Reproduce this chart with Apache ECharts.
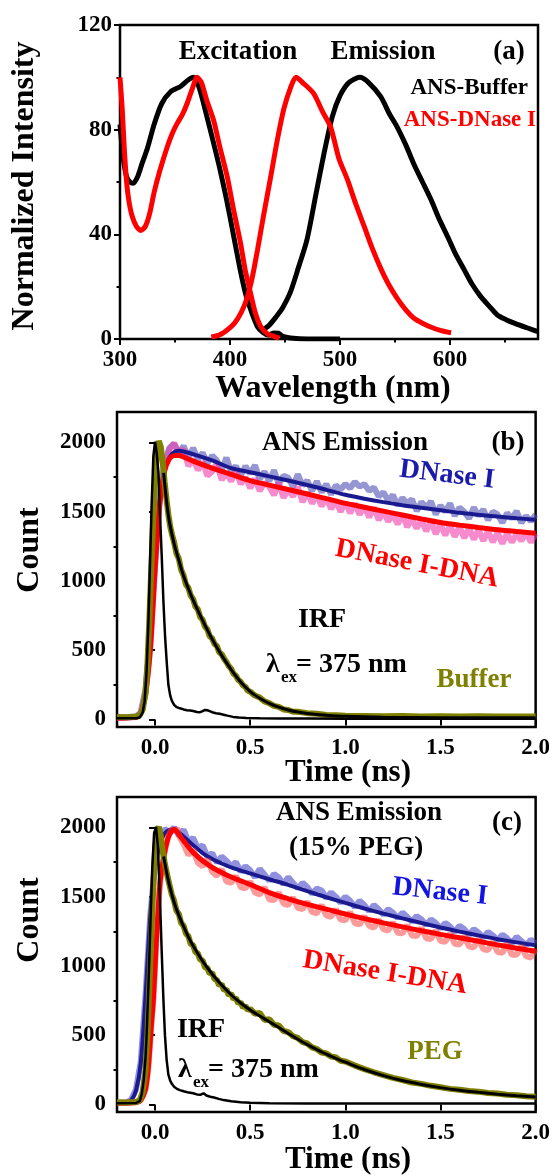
<!DOCTYPE html>
<html>
<head>
<meta charset="utf-8">
<title>ANS spectra and decays</title>
<script src="https://cdn.jsdelivr.net/npm/echarts@6/dist/echarts.min.js"></script>
<style>
  html, body { margin: 0; padding: 0; background: #fff; }
  #chart { width: 553px; height: 1176px; }
</style>
</head>
<body>
<div id="chart"></div>
<script>
// ---- (a) steady state spectra: [wavelength (nm), normalized intensity]
const exBuffer = [[300,82],[303,69],[306,62],[309,60],[312,59.5],[316,62],[320,67],[325,73],[331,82],[338,90],[346,94.5],[355,96.5],[362,99],[367,100],[372,96],[379,85],[385,75],[391,64.6],[397,53],[403.5,39],[409,27],[414,17.5],[419,11],[425,4.7],[430,2.5],[435,1.5],[440,2.3],[444,2.2],[448,1],[455,0.4],[470,0],[500,0]];
const emBuffer = [[428,3],[435,5],[442,8.5],[448,12],[455,18],[462,27],[470,38],[478,55],[486,72],[493,85],[500,93],[508,98],[518,100],[526,98],[537,92.6],[545,86],[552,81],[560,74],[567,67],[575,60],[583,53],[590,46],[598,39],[605,32.5],[613,26.4],[620,21],[628,16.2],[636,12.4],[643,9.2],[651,7.4],[659,6],[670,4.3],[680,2.8]];
const exDNase = [[300,100],[302,88],[304,72],[306,60],[308,53],[311,47],[315,43],[319,41.5],[323,43],[327,48],[331,56],[336,64],[343,73.5],[348,79],[352,82.4],[357,86],[361,90],[366,96],[370,100],[374,98],[379,91],[385,83.7],[391,73],[397.5,62],[403,50],[409.6,36.6],[414,26],[418.7,17.5],[423,10],[428,4.7],[434,2],[440,1],[445,0.3]];
const emDNase = [[383,0.8],[390,1.5],[396,3],[404,6],[410,10],[415,15],[420,23],[425,34],[430,46],[437,62],[443,76],[449,88],[455,96],[460,100],[466,98],[476,93.9],[484,87],[491.5,81],[499,69],[506.7,61],[514,52],[522,43],[529,35],[537,27],[544,21],[552,15.5],[560,11],[567,8],[575,6],[583,4.5],[592,3.2],[601,2.4]];

// ---- (b) decays in buffer: [time (ns), count]
const irfB = [[-0.2,8],[-0.1,8],[-0.08,14],[-0.065,50],[-0.055,130],[-0.045,330],[-0.035,700],[-0.026,1150],[-0.018,1550],[-0.009,1900],[0,2005],[0.008,1930],[0.018,1780],[0.026,1480],[0.035,1180],[0.044,850],[0.053,590],[0.062,400],[0.07,250],[0.08,170],[0.088,135],[0.1,105],[0.114,88],[0.13,80],[0.15,72],[0.167,66],[0.185,64],[0.2,60],[0.22,54],[0.237,52],[0.25,60],[0.262,68],[0.275,66],[0.29,58],[0.305,50],[0.32,44],[0.34,40],[0.36,34],[0.38,27],[0.41,18],[0.44,13],[0.48,10],[0.55,8],[0.65,6],[0.8,6],[1.0,5],[1.3,5],[1.6,5],[2.0,5]];
const bufferB = [[-0.2,18],[-0.15,16],[-0.1,20],[-0.08,30],[-0.065,70],[-0.05,190],[-0.04,400],[-0.03,720],[-0.02,1080],[-0.01,1430],[0,1740],[0.01,1930],[0.02,2010],[0.03,1970],[0.04,1860],[0.05,1720],[0.06,1590],[0.07,1480],[0.08,1390],[0.09,1330],[0.1,1280],[0.112,1200],[0.125,1160],[0.137,1080],[0.15,1040],[0.162,975],[0.175,950],[0.187,895],[0.2,870],[0.212,815],[0.225,795],[0.237,740],[0.25,720],[0.262,670],[0.275,650],[0.287,600],[0.3,585],[0.312,545],[0.325,530],[0.337,485],[0.35,470],[0.362,440],[0.375,415],[0.387,385],[0.4,365],[0.412,330],[0.425,315],[0.437,285],[0.45,272],[0.462,245],[0.475,235],[0.487,208],[0.5,200],[0.525,172],[0.55,158],[0.575,130],[0.6,118],[0.625,98],[0.65,90],[0.675,72],[0.7,68],[0.725,55],[0.75,55],[0.8,45],[0.85,40],[0.9,32],[0.95,30],[1.0,26],[1.1,24],[1.2,22],[1.3,24],[1.4,21],[1.5,22],[1.6,20],[1.7,22],[1.8,20],[1.9,21],[2.0,20]];
const bufferFitB = [[0.045,1780],[0.06,1580],[0.075,1430],[0.1,1270],[0.125,1150],[0.15,1035],[0.175,945],[0.2,862],[0.25,715],[0.3,580],[0.35,462],[0.4,360],[0.45,270],[0.5,200],[0.55,152],[0.6,115],[0.65,88],[0.7,68],[0.75,53],[0.8,43],[0.9,30],[1.0,22],[1.2,15],[1.5,12],[2.0,12]];
const dnaseB = [[-0.2,10],[-0.15,15],[-0.1,20],[-0.075,50],[-0.05,220],[-0.025,600],[0,1150],[0.025,1620],[0.05,1850],[0.075,1960],[0.1,1990],[0.125,1920],[0.15,1975],[0.175,1890],[0.2,1960],[0.225,1880],[0.25,1925],[0.275,1850],[0.3,1905],[0.325,1870],[0.35,1800],[0.375,1890],[0.4,1790],[0.425,1830],[0.45,1760],[0.475,1830],[0.5,1775],[0.525,1835],[0.55,1735],[0.575,1790],[0.6,1720],[0.625,1800],[0.65,1700],[0.675,1760],[0.7,1745],[0.725,1680],[0.75,1770],[0.775,1690],[0.8,1725],[0.825,1650],[0.85,1720],[0.875,1640],[0.9,1700],[0.925,1625],[0.95,1690],[0.975,1660],[1.0,1700],[1.025,1670],[1.05,1715],[1.075,1680],[1.1,1700],[1.125,1650],[1.15,1675],[1.175,1610],[1.2,1640],[1.225,1580],[1.25,1620],[1.275,1545],[1.3,1600],[1.325,1560],[1.35,1590],[1.375,1505],[1.4,1570],[1.425,1530],[1.45,1575],[1.475,1480],[1.5,1545],[1.525,1500],[1.55,1560],[1.575,1470],[1.6,1530],[1.625,1500],[1.65,1450],[1.675,1530],[1.7,1470],[1.725,1515],[1.75,1440],[1.775,1500],[1.8,1480],[1.825,1420],[1.85,1490],[1.875,1450],[1.9,1505],[1.925,1420],[1.95,1470],[1.975,1430],[2.0,1480]];
const dnaseFitB = [[-0.2,10],[-0.1,14],[-0.075,40],[-0.05,190],[-0.025,540],[0,1100],[0.025,1580],[0.05,1800],[0.075,1890],[0.1,1930],[0.125,1940],[0.15,1935],[0.2,1915],[0.3,1870],[0.4,1815],[0.5,1785],[0.6,1755],[0.7,1725],[0.8,1693],[0.9,1658],[1.0,1622],[1.1,1594],[1.2,1569],[1.3,1547],[1.4,1528],[1.5,1510],[1.6,1492],[1.7,1478],[1.8,1465],[1.9,1453],[2.0,1442]];
const dnaB = [[-0.2,10],[-0.15,12],[-0.1,18],[-0.075,45],[-0.05,190],[-0.025,520],[0,1100],[0.025,1580],[0.05,1820],[0.075,1950],[0.1,1995],[0.125,1930],[0.15,1950],[0.175,1830],[0.2,1880],[0.225,1800],[0.25,1860],[0.275,1760],[0.3,1790],[0.325,1850],[0.35,1730],[0.375,1780],[0.4,1720],[0.425,1800],[0.45,1700],[0.475,1750],[0.5,1670],[0.525,1740],[0.55,1650],[0.575,1710],[0.6,1680],[0.625,1620],[0.65,1710],[0.675,1600],[0.7,1660],[0.725,1610],[0.75,1680],[0.775,1570],[0.8,1640],[0.825,1560],[0.85,1620],[0.875,1540],[0.9,1600],[0.925,1520],[0.95,1580],[0.975,1500],[1.0,1570],[1.025,1490],[1.05,1560],[1.075,1480],[1.1,1540],[1.125,1460],[1.15,1530],[1.175,1440],[1.2,1500],[1.225,1430],[1.25,1480],[1.275,1410],[1.3,1480],[1.325,1390],[1.35,1450],[1.375,1380],[1.4,1440],[1.425,1360],[1.45,1430],[1.475,1340],[1.5,1410],[1.525,1330],[1.55,1400],[1.575,1320],[1.6,1390],[1.625,1310],[1.65,1380],[1.675,1300],[1.7,1370],[1.725,1290],[1.75,1360],[1.775,1280],[1.8,1350],[1.825,1270],[1.85,1345],[1.875,1280],[1.9,1340],[1.925,1290],[1.95,1350],[1.975,1280],[2.0,1340]];
const dnaFitB = [[-0.2,10],[-0.1,15],[-0.075,45],[-0.05,180],[-0.025,500],[0,1080],[0.025,1560],[0.05,1790],[0.075,1880],[0.1,1905],[0.125,1906],[0.15,1895],[0.2,1865],[0.3,1815],[0.4,1770],[0.5,1725],[0.6,1692],[0.7,1660],[0.8,1628],[0.9,1594],[1.0,1560],[1.1,1532],[1.2,1504],[1.3,1476],[1.4,1448],[1.5,1422],[1.6,1403],[1.7,1386],[1.8,1370],[1.9,1357],[2.0,1345]];

// ---- (c) decays in 15% PEG: [time (ns), count]
const irfC = [[-0.2,8],[-0.1,10],[-0.08,25],[-0.07,75],[-0.06,170],[-0.05,340],[-0.044,514],[-0.035,850],[-0.026,1235],[-0.015,1700],[-0.005,1960],[0.005,2005],[0.015,1860],[0.026,1476],[0.035,1100],[0.044,754],[0.052,500],[0.061,320],[0.07,215],[0.08,170],[0.09,145],[0.1,128],[0.115,112],[0.13,103],[0.15,95],[0.17,88],[0.2,80],[0.22,72],[0.24,70],[0.255,80],[0.27,64],[0.29,55],[0.31,50],[0.335,40],[0.36,31],[0.4,22],[0.45,15],[0.5,11],[0.6,9],[0.8,7],[1.0,6],[1.5,6],[2.0,6]];
const pegC = [[-0.2,15],[-0.15,14],[-0.1,18],[-0.08,30],[-0.065,90],[-0.05,250],[-0.04,500],[-0.03,850],[-0.02,1200],[-0.01,1550],[0,1830],[0.01,1975],[0.02,2005],[0.03,1940],[0.04,1830],[0.05,1750],[0.06,1680],[0.075,1590],[0.087,1520],[0.1,1470],[0.112,1400],[0.125,1375],[0.137,1310],[0.15,1290],[0.162,1235],[0.175,1215],[0.187,1160],[0.2,1150],[0.212,1100],[0.225,1090],[0.237,1045],[0.25,1040],[0.262,990],[0.275,985],[0.287,945],[0.3,950],[0.312,905],[0.325,900],[0.337,860],[0.35,870],[0.362,825],[0.375,830],[0.387,790],[0.4,800],[0.412,760],[0.425,770],[0.437,730],[0.45,738],[0.462,700],[0.475,712],[0.487,680],[0.5,690],[0.525,655],[0.55,660],[0.575,610],[0.6,615],[0.625,575],[0.65,570],[0.675,530],[0.7,522],[0.725,492],[0.75,480],[0.775,450],[0.8,440],[0.825,412],[0.85,400],[0.875,375],[0.9,368],[0.925,345],[0.95,340],[0.975,315],[1.0,310],[1.05,280],[1.1,255],[1.15,232],[1.2,212],[1.25,192],[1.3,176],[1.35,158],[1.4,148],[1.45,134],[1.5,124],[1.55,112],[1.6,106],[1.65,96],[1.7,92],[1.75,82],[1.8,78],[1.85,70],[1.9,66],[1.95,58],[2.0,56]];
const pegFitC = [[0.045,1790],[0.06,1680],[0.075,1585],[0.1,1460],[0.125,1365],[0.15,1285],[0.175,1210],[0.2,1145],[0.25,1035],[0.3,942],[0.35,862],[0.4,792],[0.45,732],[0.5,682],[0.55,638],[0.6,597],[0.65,555],[0.7,512],[0.75,470],[0.8,432],[0.85,396],[0.9,363],[0.95,332],[1.0,305],[1.1,252],[1.2,208],[1.3,172],[1.4,144],[1.5,121],[1.6,102],[1.7,87],[1.8,74],[1.9,63],[2.0,54]];
const dnaseC = [[-0.2,12],[-0.15,14],[-0.125,35],[-0.1,110],[-0.075,310],[-0.05,790],[-0.025,1370],[0,1730],[0.025,1900],[0.05,1990],[0.075,1960],[0.1,2000],[0.125,1940],[0.15,1985],[0.175,1900],[0.2,1925],[0.225,1850],[0.25,1870],[0.275,1790],[0.3,1815],[0.325,1745],[0.35,1790],[0.375,1760],[0.4,1720],[0.425,1750],[0.45,1680],[0.475,1720],[0.5,1690],[0.525,1640],[0.55,1700],[0.575,1660],[0.6,1615],[0.625,1665],[0.65,1640],[0.675,1590],[0.7,1640],[0.725,1600],[0.75,1560],[0.775,1600],[0.8,1570],[0.825,1520],[0.85,1560],[0.875,1545],[0.9,1490],[0.925,1530],[0.95,1500],[0.975,1455],[1.0,1500],[1.025,1470],[1.05,1425],[1.075,1470],[1.1,1440],[1.125,1395],[1.15,1440],[1.175,1410],[1.2,1370],[1.225,1410],[1.25,1385],[1.275,1345],[1.3,1385],[1.325,1355],[1.35,1320],[1.375,1360],[1.4,1335],[1.425,1295],[1.45,1335],[1.475,1310],[1.5,1270],[1.525,1310],[1.55,1285],[1.575,1245],[1.6,1290],[1.625,1265],[1.65,1225],[1.675,1265],[1.7,1240],[1.725,1205],[1.75,1245],[1.775,1220],[1.8,1185],[1.825,1225],[1.85,1200],[1.875,1165],[1.9,1210],[1.925,1180],[1.95,1150],[1.975,1190],[2.0,1160]];
const dnaseFitC = [[-0.2,10],[-0.15,12],[-0.125,30],[-0.1,100],[-0.075,300],[-0.05,780],[-0.025,1360],[0,1720],[0.025,1880],[0.05,1955],[0.075,1982],[0.1,1985],[0.125,1962],[0.15,1934],[0.2,1872],[0.25,1815],[0.3,1772],[0.35,1740],[0.4,1712],[0.5,1668],[0.6,1626],[0.7,1586],[0.8,1540],[0.9,1496],[1.0,1455],[1.1,1415],[1.2,1378],[1.3,1343],[1.4,1310],[1.5,1278],[1.6,1248],[1.7,1220],[1.8,1193],[1.9,1170],[2.0,1150]];
const dnaC = [[-0.2,10],[-0.1,15],[-0.075,30],[-0.05,110],[-0.035,270],[-0.02,560],[-0.009,760],[0,1000],[0.009,1240],[0.026,1600],[0.04,1750],[0.053,1840],[0.07,1940],[0.088,1990],[0.1,1970],[0.115,1995],[0.13,1930],[0.15,1880],[0.175,1800],[0.2,1840],[0.225,1745],[0.25,1720],[0.275,1770],[0.3,1680],[0.325,1650],[0.35,1700],[0.375,1610],[0.4,1600],[0.425,1650],[0.45,1570],[0.475,1560],[0.5,1610],[0.525,1530],[0.55,1515],[0.575,1570],[0.6,1480],[0.625,1475],[0.65,1530],[0.675,1450],[0.7,1440],[0.725,1495],[0.75,1420],[0.775,1410],[0.8,1465],[0.825,1390],[0.85,1380],[0.875,1440],[0.9,1365],[0.925,1355],[0.95,1410],[0.975,1335],[1.0,1330],[1.025,1390],[1.05,1310],[1.075,1300],[1.1,1360],[1.125,1290],[1.15,1275],[1.175,1335],[1.2,1265],[1.225,1255],[1.25,1315],[1.275,1240],[1.3,1235],[1.325,1295],[1.35,1220],[1.375,1215],[1.4,1275],[1.425,1200],[1.45,1195],[1.475,1255],[1.5,1180],[1.525,1175],[1.55,1235],[1.575,1160],[1.6,1155],[1.625,1215],[1.65,1140],[1.675,1135],[1.7,1195],[1.725,1120],[1.75,1115],[1.775,1175],[1.8,1100],[1.825,1095],[1.85,1160],[1.875,1080],[1.9,1080],[1.925,1145],[1.95,1070],[1.975,1060],[2.0,1120]];
const dnaFitC = [[-0.2,10],[-0.1,14],[-0.075,30],[-0.05,110],[-0.035,272],[-0.02,560],[-0.009,754],[0,990],[0.009,1235],[0.026,1597],[0.04,1740],[0.053,1838],[0.07,1930],[0.088,1975],[0.1,1985],[0.115,1970],[0.13,1940],[0.15,1905],[0.175,1860],[0.2,1820],[0.25,1760],[0.3,1712],[0.35,1675],[0.4,1642],[0.5,1588],[0.6,1530],[0.7,1485],[0.8,1445],[0.9,1410],[1.0,1375],[1.1,1342],[1.2,1311],[1.3,1282],[1.4,1254],[1.5,1228],[1.6,1203],[1.7,1178],[1.8,1152],[1.9,1128],[2.0,1106]];

// axis tick values
const wlTicks = [300, 400, 500, 600];
const wlMinor = [350, 450, 550, 650];
const intTicks = [0, 40, 80, 120];
const intMinor = [20, 60, 100];
const timeTicks = [0, 0.5, 1.0, 1.5, 2.0];
const countTicks = [0, 500, 1000, 1500, 2000];
const countMinor = [250, 750, 1250, 1750];

const SERIF = '"Liberation Serif", "Times New Roman", serif';
const OLIVE = '#808000';

const chart = echarts.init(document.getElementById('chart'));

const labelStyle = { fontFamily: SERIF, fontWeight: 'bold', fontSize: 23, color: '#000' };

// one axis, ticks and labels only on the given values; the frame comes from the grid border
function axis(gridIndex, position, min, max, ticks, opts) {
  opts = opts || {};
  return {
    gridIndex, position, type: 'value', min, max,
    axisLine: { show: false },
    splitLine: { show: false },
    axisTick: {
      show: true, inside: false, length: opts.minor ? 3.5 : 6,
      lineStyle: { color: '#000', width: 2 },
      customValues: ticks
    },
    axisLabel: opts.minor ? { show: false } : Object.assign({
      show: true, customValues: ticks, margin: opts.margin || 10,
      formatter: opts.fmt || (v => String(v))
    }, labelStyle)
  };
}

function line(data, xi, yi, color, width, opacity, smooth) {
  return {
    type: 'line', data, xAxisIndex: xi, yAxisIndex: yi,
    showSymbol: false, symbol: 'none', smooth: smooth || false,
    lineStyle: { color, width, opacity: opacity == null ? 1 : opacity },
    silent: true, animation: false
  };
}

function txt(text, x, y, size, color, align, rot) {
  return {
    type: 'text', x, y, rotation: rot || 0, z: 100,
    style: {
      text, fill: color, font: 'bold ' + size + 'px ' + SERIF,
      textAlign: align || 'center', textVerticalAlign: 'middle',
      align: align || 'center', verticalAlign: 'middle'
    }
  };
}

const tfmt = v => v.toFixed(1);
const gridBase = { show: true, borderColor: '#000', borderWidth: 2.5, backgroundColor: 'transparent' };

chart.setOption({
  animation: false,
  backgroundColor: '#fff',
  grid: [
    Object.assign({ left: 120, top: 25, width: 418, height: 314 }, gridBase),
    Object.assign({ left: 117, top: 412, width: 419, height: 315 }, gridBase),
    Object.assign({ left: 117, top: 797, width: 419, height: 315 }, gridBase)
  ],
  xAxis: [
    axis(0, 'bottom', 300, 680, wlTicks, { margin: 10 }),
    axis(0, 'bottom', 300, 680, wlMinor, { minor: true }),
    axis(1, 'bottom', -0.2, 2.0, timeTicks, { margin: 10, fmt: tfmt }),
    axis(2, 'bottom', -0.2, 2.0, timeTicks, { margin: 10, fmt: tfmt })
  ],
  yAxis: [
    axis(0, 'left', 0, 120, intTicks, { margin: 8 }),
    axis(0, 'left', 0, 120, intMinor, { minor: true }),
    axis(1, 'left', -55, 2220, countTicks, { margin: 11 }),
    axis(1, 'left', -55, 2220, countMinor, { minor: true }),
    axis(2, 'left', -55, 2220, countTicks, { margin: 11 }),
    axis(2, 'left', -55, 2220, countMinor, { minor: true })
  ],
  series: [
    // (a)
    line(exBuffer, 0, 0, '#000', 5, 1, 0.25),
    line(emBuffer, 0, 0, '#000', 5, 1, 0.25),
    line(exDNase, 0, 0, '#ff0000', 5, 1, 0.25),
    line(emDNase, 0, 0, '#ff0000', 5, 1, 0.25),
    // (b)
    line(dnaseB, 2, 2, 'rgb(80,80,180)', 6, 0.6),
    line(dnaB, 2, 2, 'rgb(240,60,170)', 6, 0.6),
    line(dnaseFitB, 2, 2, '#1a1a90', 4, 1, 0.3),
    line(dnaFitB, 2, 2, '#ff0000', 5, 1, 0.3),
    line(bufferB, 2, 2, OLIVE, 6, 1),
    line(bufferFitB, 2, 2, '#000', 3, 1, 0.3),
    line(irfB, 2, 2, '#000', 2.5, 1),
    // (c)
    line(dnaseC, 3, 4, 'rgb(70,70,200)', 6, 0.6),
    line(dnaseFitC, 3, 4, '#1a1a90', 4, 1, 0.3),
    line(dnaC, 3, 4, 'rgb(250,70,70)', 6, 0.55),
    line(dnaFitC, 3, 4, '#ff0000', 5, 1, 0.3),
    line(pegC, 3, 4, OLIVE, 6, 1),
    line(pegFitC, 3, 4, '#000', 3, 1, 0.3),
    line(irfC, 3, 4, '#000', 2.5, 1)
  ],
  graphic: [
    // (a)
    txt('Excitation', 238, 52, 27, '#000'),
    txt('Emission', 383, 52, 27, '#000'),
    txt('(a)', 509, 52, 27, '#000'),
    txt('ANS-Buffer', 528, 88, 23, '#000', 'right'),
    txt('ANS-DNase I', 536, 120, 23, '#ff0000', 'right'),
    txt('Normalized Intensity', 25, 186, 32, '#000', 'center', Math.PI / 2),
    txt('Wavelength (nm)', 333, 389, 32, '#000'),
    // (b)
    txt('ANS Emission', 345, 443, 27, '#000'),
    txt('(b)', 508, 443, 27, '#000'),
    txt('DNase I', 447, 475, 28, '#1b1bab', 'center', -0.12),
    txt('DNase I-DNA', 417, 564, 28, '#ff0000', 'center', -0.19),
    txt('IRF', 322, 620, 28, '#000'),
    txt('λ', 266, 665, 28, '#000', 'left'),
    txt('ex', 281, 678, 17, '#000', 'left'),
    txt('= 375 nm', 296, 665, 28, '#000', 'left'),
    txt('Buffer', 474, 680, 27, OLIVE),
    txt('Count', 30, 550, 32, '#000', 'center', Math.PI / 2),
    txt('Time (ns)', 348, 773, 31, '#000'),
    // (c)
    txt('ANS Emission', 359, 813, 27, '#000'),
    txt('(15% PEG)', 356, 848, 27, '#000'),
    txt('(c)', 507, 823, 27, '#000'),
    txt('DNase I', 440, 892, 28, '#1414e0', 'center', -0.105),
    txt('DNase I-DNA', 385, 973, 28, '#ff0000', 'center', -0.16),
    txt('IRF', 201, 1030, 28, '#000'),
    txt('λ', 178, 1070, 28, '#000', 'left'),
    txt('ex', 193, 1083, 17, '#000', 'left'),
    txt('= 375 nm', 208, 1070, 28, '#000', 'left'),
    txt('PEG', 435, 1052, 27, OLIVE),
    txt('Count', 30, 920, 32, '#000', 'center', Math.PI / 2),
    txt('Time (ns)', 348, 1160, 31, '#000')
  ]
});
</script>
</body>
</html>
